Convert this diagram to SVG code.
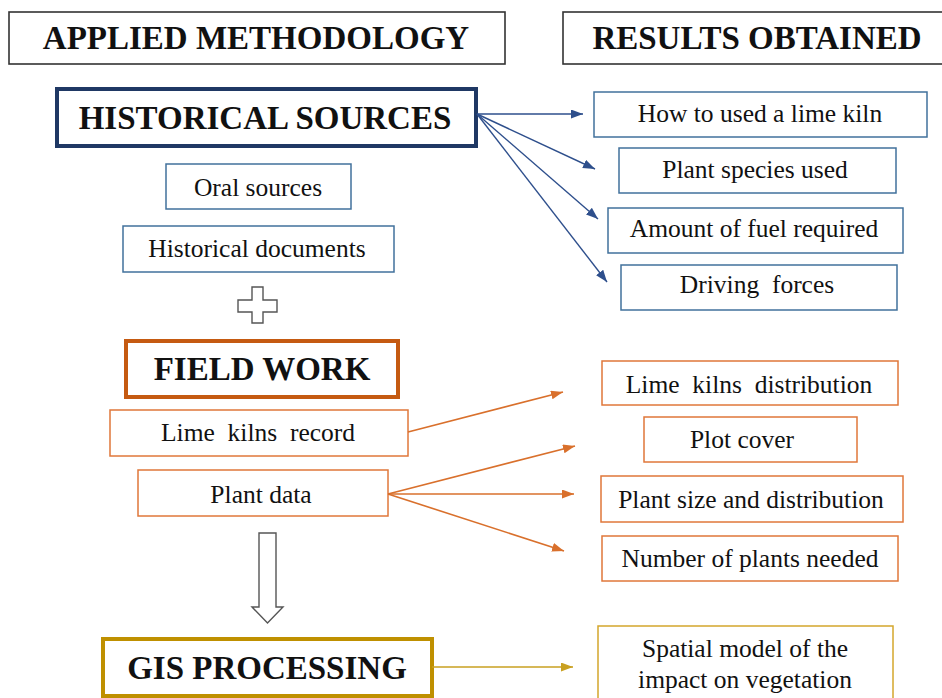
<svg xmlns="http://www.w3.org/2000/svg" width="942" height="698" viewBox="0 0 942 698">
<defs>
<style>
text{font-family:"Liberation Serif","Times New Roman",serif;fill:#111;text-anchor:middle}
.h{font-size:33px;font-weight:bold}
.t{font-size:25.5px}
.hdr{fill:#fff;stroke:#333;stroke-width:1.6}
.navy{fill:#fff;stroke:#1F3864;stroke-width:4}
.blue{fill:#fff;stroke:#41719C;stroke-width:1.5}
.orgT{fill:#fff;stroke:#C55A11;stroke-width:4}
.org{fill:#fff;stroke:#E0773A;stroke-width:1.5}
.goldT{fill:#fff;stroke:#BF9000;stroke-width:4}
.gold{fill:#fff;stroke:#D4A72C;stroke-width:1.5}
.cb{stroke:#2E4F8C;stroke-width:1.4;fill:none}
.co{stroke:#D9702C;stroke-width:1.6;fill:none}
.cg{stroke:#C9A020;stroke-width:1.6;fill:none}
.hollow{fill:#fff;stroke:#555;stroke-width:1.4}
</style>
<marker id="mb" markerUnits="userSpaceOnUse" markerWidth="14" markerHeight="10" refX="12" refY="4.5" orient="auto"><path d="M0,0 L12,4.5 L0,9 z" fill="#2E4F8C"/></marker>
<marker id="mo" markerUnits="userSpaceOnUse" markerWidth="14" markerHeight="10" refX="12" refY="4.5" orient="auto"><path d="M0,0 L12,4.5 L0,9 z" fill="#D9702C"/></marker>
<marker id="mg" markerUnits="userSpaceOnUse" markerWidth="14" markerHeight="10" refX="12" refY="4.5" orient="auto"><path d="M0,0 L12,4.5 L0,9 z" fill="#C9A020"/></marker>
</defs>
<rect width="942" height="698" fill="#fff"/>

<g id="header-methodology"><rect class="hdr" x="9" y="12" width="496" height="52"/><text class="h" x="256" y="49">APPLIED METHODOLOGY</text></g>
<g id="header-results"><rect class="hdr" x="563" y="12" width="385" height="52"/><text class="h" x="757" y="49">RESULTS OBTAINED</text></g>

<g id="historical-sources"><rect class="navy" x="57" y="89" width="419" height="57"/><text class="h" x="265" y="129">HISTORICAL SOURCES</text></g>
<g id="oral-sources"><rect class="blue" x="166" y="164" width="185" height="45"/><text class="t" x="258" y="196">Oral sources</text></g>
<g id="historical-documents"><rect class="blue" x="123" y="226" width="271" height="46"/><text class="t" x="257" y="257">Historical documents</text></g>
<g id="plus"><path class="hollow" d="M252,287 H263 V300 H277 V312 H263 V323 H252 V312 H238 V300 H252 Z"/></g>

<g id="how-to-use"><rect class="blue" x="594" y="92" width="333" height="45"/><text class="t" x="760" y="122">How to used a lime  kiln</text></g>
<g id="plant-species"><rect class="blue" x="619" y="148" width="277" height="45"/><text class="t" x="755" y="178">Plant  species used</text></g>
<g id="amount-fuel"><rect class="blue" x="608" y="208" width="295" height="45"/><text class="t" x="754" y="237">Amount  of fuel  required</text></g>
<g id="driving-forces"><rect class="blue" x="621" y="265" width="276" height="45"/><text class="t" x="757" y="293" style="white-space:pre">Driving  forces</text></g>

<g id="field-work"><rect class="orgT" x="126" y="341" width="272" height="56"/><text class="h" x="262" y="380">FIELD WORK</text></g>
<g id="lime-kilns-record"><rect class="org" x="110" y="410" width="298" height="46"/><text class="t" x="258" y="441" style="white-space:pre">Lime  kilns  record</text></g>
<g id="plant-data"><rect class="org" x="138" y="470" width="250" height="46"/><text class="t" x="261" y="503">Plant data</text></g>

<g id="lime-kilns-distribution"><rect class="org" x="602" y="361" width="296" height="44"/><text class="t" x="749" y="393" style="white-space:pre">Lime  kilns  distribution</text></g>
<g id="plot-cover"><rect class="org" x="644" y="417" width="213" height="45"/><text class="t" x="742" y="448">Plot cover</text></g>
<g id="plant-size"><rect class="org" x="601" y="476" width="302" height="46"/><text class="t" x="751" y="508">Plant size and distribution</text></g>
<g id="number-plants"><rect class="org" x="602" y="536" width="296" height="45"/><text class="t" x="750" y="567">Number of plants needed</text></g>

<g id="down-arrow"><path class="hollow" d="M259,533 H276 V607 H283 L267.5,623 L252,607 H259 Z"/></g>

<g id="gis-processing"><rect class="goldT" x="103" y="639" width="329" height="57"/><text class="h" x="267" y="679">GIS PROCESSING</text></g>
<g id="spatial-model"><rect class="gold" x="598" y="626" width="295" height="80"/><text class="t" x="745" y="657">Spatial model of the</text><text class="t" x="745" y="688">impact on vegetation</text></g>

<g id="connectors">
<line class="cb" x1="477" y1="114" x2="583" y2="114" marker-end="url(#mb)"/>
<line class="cb" x1="477" y1="114" x2="595" y2="169" marker-end="url(#mb)"/>
<line class="cb" x1="477" y1="114" x2="598" y2="219" marker-end="url(#mb)"/>
<line class="cb" x1="477" y1="114" x2="607" y2="282" marker-end="url(#mb)"/>
<line class="co" x1="408" y1="432" x2="563" y2="392" marker-end="url(#mo)"/>
<line class="co" x1="388" y1="494" x2="575" y2="446" marker-end="url(#mo)"/>
<line class="co" x1="388" y1="494" x2="574" y2="494" marker-end="url(#mo)"/>
<line class="co" x1="388" y1="494" x2="564" y2="551" marker-end="url(#mo)"/>
<line class="cg" x1="432" y1="667" x2="573" y2="667" marker-end="url(#mg)"/>
</g>
</svg>
